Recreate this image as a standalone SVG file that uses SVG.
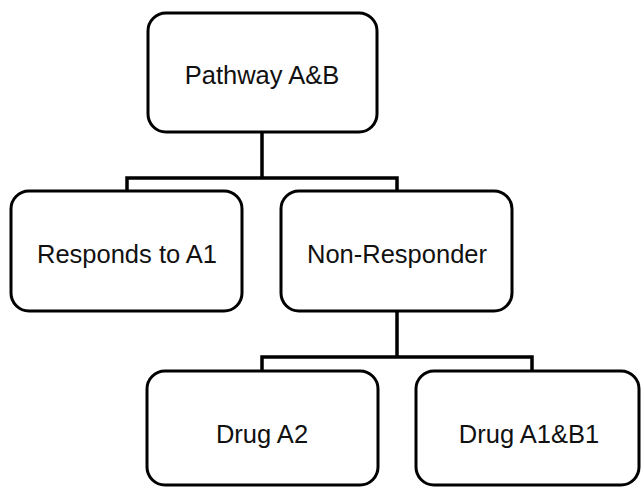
<svg xmlns="http://www.w3.org/2000/svg" width="642" height="488" viewBox="0 0 642 488">
<style>
.box{fill:#fff;stroke:#000;stroke-width:3}
.lbl{font-family:"Liberation Sans",Arial,sans-serif;font-size:25.5px;fill:#111;text-anchor:middle}
.conn{fill:none;stroke:#000;stroke-width:3.5;stroke-linejoin:miter}
</style>
<rect width="642" height="488" fill="#fff"/>
<g id="connectors">
<path class="conn" d="M262,132 V178 M127,191 V178 H397 V191"/>
<path class="conn" d="M397,311 V357 M262,371 V357 H532 V371"/>
</g>
<g id="n-pathway">
<rect class="box" x="148" y="13" width="229" height="119" rx="18"/>
<text class="lbl" x="262" y="84">Pathway A&amp;B</text>
</g>
<g id="n-responds">
<rect class="box" x="11" y="191" width="231" height="120" rx="18"/>
<text class="lbl" x="127" y="263">Responds to A1</text>
</g>
<g id="n-nonresponder">
<rect class="box" x="281" y="191" width="231" height="120" rx="18"/>
<text class="lbl" x="397" y="263">Non-Responder</text>
</g>
<g id="n-druga2">
<rect class="box" x="147" y="371" width="231" height="114" rx="18"/>
<text class="lbl" x="262" y="443">Drug A2</text>
</g>
<g id="n-druga1b1">
<rect class="box" x="416" y="371" width="223" height="114" rx="18"/>
<text class="lbl" x="529" y="443">Drug A1&amp;B1</text>
</g>
</svg>
